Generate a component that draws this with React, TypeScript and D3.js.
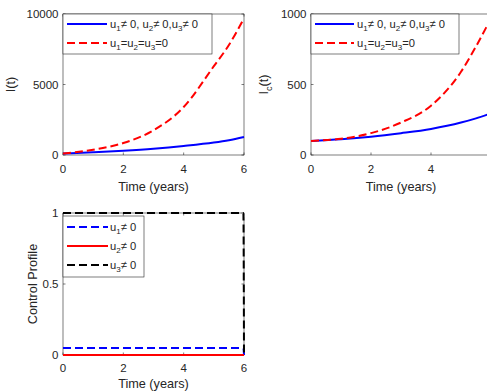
import React from 'react'
import * as d3 from 'd3'

const FONT = '"Liberation Sans", Arial, sans-serif'
const AXIS = '#262626'

// I(t) panel
const tI = [0, 1, 2, 3, 4, 5, 5.5, 6]
const iControl = [100, 200, 310, 450, 640, 880, 1050, 1280]
const iNoControl = [100, 370, 850, 1750, 3400, 6300, 7800, 9700]

// Ic(t) panel
const tIc = [0, 1, 2, 3, 4, 5, 5.5, 6]
const icControl = [100, 112, 130, 155, 185, 230, 260, 295]
const icNoControl = [100, 115, 155, 230, 350, 590, 770, 970]

// control profile panel
const tU = [0, 5.98, 6]
const u1 = [0.05, 0.05, 0]
const u2 = [0, 0, 0]
const u3 = [1, 1, 0]

const xTicks = [0, 2, 4, 6]
const iTicks = [0, 5000, 10000]
const icTicks = [0, 500, 1000]
const uTicks = [0, 0.5, 1]

const TICK_FS = 11.5
const LABEL_FS = 12.7
const LEGEND_FS = 11.2

type Series = { t: number[]; v: number[]; color: string; dash?: string; label: string }

function SubText({ text, x, y, size = 10, anchor = 'start' }: { text: string; x: number; y: number; size?: number; anchor?: string }) {
  // "_x" makes the next character a subscript
  const parts: React.ReactNode[] = []
  const drop = size * 0.3
  let buf = ''
  let shifted = false
  let k = 0
  for (let i = 0; i < text.length; i++) {
    if (text[i] === '_' && i + 1 < text.length) {
      if (buf) {
        parts.push(<tspan key={k++} dy={shifted ? -drop : 0}>{buf}</tspan>)
        shifted = false
      }
      buf = ''
      parts.push(<tspan key={k++} dy={shifted ? 0 : drop} fontSize={size * 0.72}>{text[i + 1]}</tspan>)
      shifted = true
      i++
    } else {
      buf += text[i]
    }
  }
  if (buf) parts.push(<tspan key={k++} dy={shifted ? -drop : 0}>{buf}</tspan>)
  return (
    <text x={x} y={y} fontSize={size} fill={AXIS} fontFamily={FONT} textAnchor={anchor as any}>
      {parts}
    </text>
  )
}

type PanelProps = {
  left: number
  right: number
  top: number
  bottom: number
  yDomain: [number, number]
  yTicks: number[]
  series: Series[]
  ylabel: string
  ylabelX: number
  tickGap?: number
  labelGap?: number
  legend: { x: number; y: number; w: number; h: number; rowY: number[]; lineX: [number, number]; textX: number }
}

function Panel({ left, right, top, bottom, yDomain, yTicks, series, ylabel, ylabelX, tickGap = 18.3, labelGap = 35.7, legend }: PanelProps) {
  const x = d3.scaleLinear().domain([0, 6]).range([left, right])
  const y = d3.scaleLinear().domain(yDomain).range([bottom, top])
  const line = d3
    .line<[number, number]>()
    .x((d) => x(d[0]))
    .y((d) => y(d[1]))
    .curve(d3.curveMonotoneX)
  const tl = 2.5
  return (
    <g>
      <rect x={left} y={top} width={right - left} height={bottom - top} fill="white" stroke={AXIS} strokeWidth={0.6} />
      {xTicks.map((t) => (
        <g key={'x' + t}>
          <line x1={x(t)} x2={x(t)} y1={bottom} y2={bottom - tl} stroke={AXIS} strokeWidth={0.6} />
          <line x1={x(t)} x2={x(t)} y1={top} y2={top + tl} stroke={AXIS} strokeWidth={0.6} />
          {x(t) < 484 && (
            <text x={x(t)} y={bottom + tickGap} fontSize={TICK_FS} fill={AXIS} fontFamily={FONT} textAnchor="middle">
              {t}
            </text>
          )}
        </g>
      ))}
      {yTicks.map((t) => (
        <g key={'y' + t}>
          <line x1={left} x2={left + tl} y1={y(t)} y2={y(t)} stroke={AXIS} strokeWidth={0.6} />
          <line x1={right} x2={right - tl} y1={y(t)} y2={y(t)} stroke={AXIS} strokeWidth={0.6} />
          <text x={left - 4.5} y={y(t) + 4} fontSize={TICK_FS} fill={AXIS} fontFamily={FONT} textAnchor="end">
            {t}
          </text>
        </g>
      ))}
      {series.map((s, i) => (
        <path
          key={i}
          d={line(s.t.map((t, j) => [t, s.v[j]] as [number, number])) || ''}
          fill="none"
          stroke={s.color}
          strokeWidth={2}
          strokeDasharray={s.dash}
        />
      ))}
      <text
        x={(left + right) / 2}
        y={bottom + labelGap}
        fontSize={LABEL_FS}
        fill={AXIS}
        fontFamily={FONT}
        textAnchor="middle"
      >
        Time (years)
      </text>
      <g transform={`translate(${ylabelX},${(top + bottom) / 2}) rotate(-90)`}>
        <SubText text={ylabel} x={0} y={0} size={LABEL_FS} anchor="middle" />
      </g>
      <rect x={legend.x} y={legend.y} width={legend.w} height={legend.h} fill="white" stroke={AXIS} strokeWidth={0.6} />
      {series.map((s, i) => (
        <g key={'l' + i}>
          <line
            x1={legend.lineX[0]}
            x2={legend.lineX[1]}
            y1={legend.rowY[i]}
            y2={legend.rowY[i]}
            stroke={s.color}
            strokeWidth={2}
            strokeDasharray={s.dash}
          />
          <SubText text={s.label} x={legend.textX} y={legend.rowY[i] + 3.5} size={LEGEND_FS} />
        </g>
      ))}
    </g>
  )
}

export default function App() {
  const dash = '8,4'
  return (
    <svg width={487} height={391} style={{ position: 'absolute', left: 0, top: 0, background: 'white' }}>
      <Panel
        left={63}
        right={244}
        top={14}
        bottom={155}
        yDomain={[0, 10000]}
        yTicks={iTicks}
        ylabel="I(t)"
        ylabelX={15}
        series={[
          { t: tI, v: iControl, color: '#0000ff', label: 'u_1≠ 0, u_2≠ 0,u_3≠ 0' },
          { t: tI, v: iNoControl, color: '#ff0000', dash, label: 'u_1=u_2=u_3=0' },
        ]}
        legend={{ x: 63, y: 14, w: 149, h: 40, rowY: [24, 43], lineX: [67, 107], textX: 110 }}
      />
      <Panel
        left={311}
        right={491}
        top={14}
        bottom={155}
        yDomain={[0, 1000]}
        yTicks={icTicks}
        ylabel="I_c(t)"
        ylabelX={268}
        series={[
          { t: tIc, v: icControl, color: '#0000ff', label: 'u_1≠ 0, u_2≠ 0,u_3≠ 0' },
          { t: tIc, v: icNoControl, color: '#ff0000', dash, label: 'u_1=u_2=u_3=0' },
        ]}
        legend={{ x: 311, y: 14, w: 148, h: 40, rowY: [24, 43], lineX: [315, 354], textX: 357 }}
      />
      <Panel
        left={63}
        right={244}
        top={213}
        bottom={355}
        yDomain={[0, 1]}
        yTicks={uTicks}
        ylabel="Control Profile"
        ylabelX={37}
        tickGap={16.7}
        labelGap={33.3}
        series={[
          { t: tU, v: u1, color: '#0000ff', dash, label: 'u_1≠ 0' },
          { t: tU, v: u2, color: '#ff0000', label: 'u_2≠ 0' },
          { t: tU, v: u3, color: '#000000', dash, label: 'u_3≠ 0' },
        ]}
        legend={{ x: 63, y: 216, w: 81, h: 61, rowY: [227, 246, 265], lineX: [67, 108], textX: 110 }}
      />
    </svg>
  )
}
